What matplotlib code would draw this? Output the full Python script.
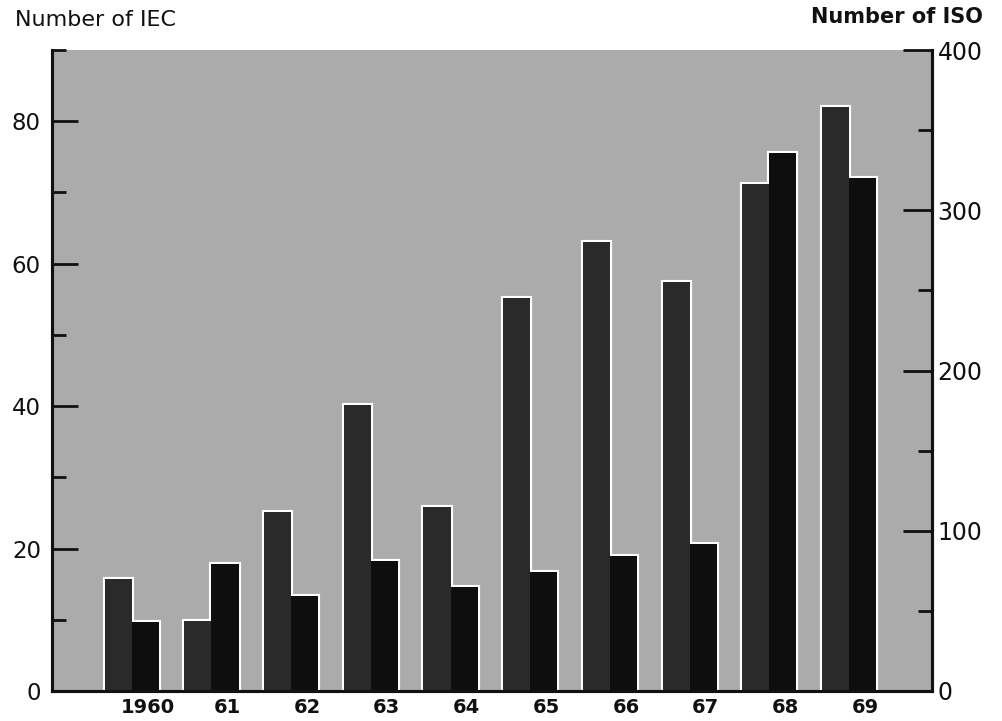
import matplotlib
matplotlib.use("Agg")
import matplotlib.pyplot as plt
import numpy as np

years = ["1960", "61", "62", "63", "64", "65", "66", "67", "68", "69"]
iec_counts = [15.7, 9.8, 25.1, 40.2, 25.8, 55.2, 63.1, 57.4, 71.2, 82.0]
iso_counts = [43, 79, 59, 81, 65, 74, 84, 92, 336, 320]
iec_ticks = [0, 20, 40, 60, 80]
iso_ticks = [0, 100, 200, 300, 400]

plt.rcParams['font.family'] = ['DejaVu Sans']

fig = plt.figure(figsize=(10.03, 7.21), dpi=100)
ax = fig.add_axes([52/1003, 30/721, 880/1003, 641/721])
ax2 = ax.twinx()

ax.set_facecolor('#ababab')
ax.set_xlim(-1.0, 10.04)
ax.set_ylim(0, 90)
ax2.set_ylim(0, 400)

x = np.arange(len(years))
w = 0.34
c1 = '#2a2a2a'
c2 = '#0e0e0e'

# white halo pass
ax.bar(x - w/2, iec_counts, w, color=c1, edgecolor='white', linewidth=3.0, zorder=2)
ax.bar(x + w/2, iso_counts, w, color=c2, edgecolor='white', linewidth=3.0, zorder=2,
       transform=ax2.transData)
# fill pass
ax.bar(x - w/2, iec_counts, w, color=c1, edgecolor='none', linewidth=0, zorder=3)
ax.bar(x + w/2, iso_counts, w, color=c2, edgecolor='none', linewidth=0, zorder=3,
       transform=ax2.transData)
ax.set_ylim(0, 90)

for a in (ax, ax2):
    a.spines['top'].set_visible(False)
    for s in ('left', 'right', 'bottom'):
        a.spines[s].set_linewidth(2.2)
        a.spines[s].set_color('#111111')

ax.set_yticks(iec_ticks)
ax.set_yticks([10, 30, 50, 70, 90], minor=True)
ax.tick_params(axis='y', which='major', direction='in', length=19, width=2,
               labelsize=16.5, pad=8, colors='#111111')
ax.tick_params(axis='y', which='minor', direction='in', length=10, width=2, colors='#111111')

ax2.set_yticks(iso_ticks)
ax2.set_yticks([50, 150, 250, 350], minor=True)
ax2.tick_params(axis='y', which='major', direction='in', length=21, width=2,
                labelsize=17, pad=4, colors='#111111')
ax2.tick_params(axis='y', which='minor', direction='in', length=10, width=2, colors='#111111')

ax.set_xticks(x + 0.2)
ax.set_xticklabels(years, fontsize=14, fontweight='bold')
ax.tick_params(axis='x', length=0, pad=5, colors='#111111')

fig.text(15/1003, 1 - 20/721, "Number of IEC", fontsize=16, ha='left', va='center',
         color='#111111')
fig.text(983/1003, 1 - 17/721, "Number of ISO", fontsize=15, fontweight='bold',
         ha='right', va='center', color='#111111')

fig.savefig("out.png", dpi=100)
